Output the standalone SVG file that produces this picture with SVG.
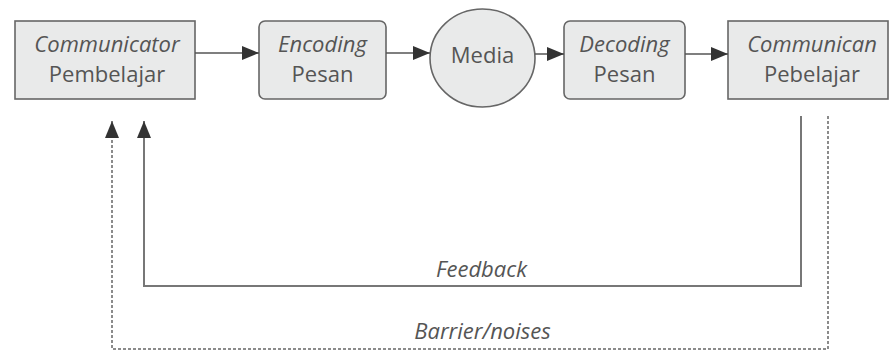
<svg xmlns="http://www.w3.org/2000/svg" width="890" height="351" viewBox="0 0 890 351">
  <style>
    .box { fill: #e9eaea; stroke: #666; stroke-width: 1.6; }
    .lbl { font-family: "Open Sans", "Noto Sans", sans-serif; font-size: 22px; fill: #555; text-anchor: middle; }
    .it { font-style: italic; }
    .wire { fill: none; stroke: #555; stroke-width: 1.5; }
    .fb { fill: none; stroke: #777; stroke-width: 2; }
    .dash { fill: none; stroke: #666; stroke-width: 1.5; stroke-dasharray: 3 2; }
  </style>
  <defs>
    <marker id="arr" markerUnits="userSpaceOnUse" markerWidth="18" markerHeight="14" refX="17" refY="7" orient="auto">
      <path d="M0,0 L17,7 L0,14 Z" fill="#333"/>
    </marker>
  </defs>

  <g id="communicator">
    <rect class="box" x="15" y="21" width="180" height="78"/>
    <text class="lbl it" x="107" y="52">Communicator</text>
    <text class="lbl" x="107" y="82">Pembelajar</text>
  </g>

  <g id="encoding">
    <rect class="box" x="259" y="21" width="127" height="78" rx="6"/>
    <text class="lbl it" x="322.5" y="52">Encoding</text>
    <text class="lbl" x="322.5" y="82">Pesan</text>
  </g>

  <g id="media">
    <ellipse class="box" cx="482.5" cy="58" rx="52.5" ry="49"/>
    <text class="lbl" x="482.5" y="63">Media</text>
  </g>

  <g id="decoding">
    <rect class="box" x="564" y="21" width="121" height="78" rx="6"/>
    <text class="lbl it" x="624.5" y="52">Decoding</text>
    <text class="lbl" x="624.5" y="82">Pesan</text>
  </g>

  <g id="communican">
    <rect class="box" x="728" y="21" width="160" height="78"/>
    <text class="lbl it" x="812" y="52">Communican</text>
    <text class="lbl" x="812" y="82">Pebelajar</text>
  </g>

  <g id="connectors">
    <line class="wire" x1="195" y1="53" x2="259" y2="53" marker-end="url(#arr)"/>
    <line class="wire" x1="386" y1="53" x2="430" y2="53" marker-end="url(#arr)"/>
    <line class="wire" x1="535" y1="54" x2="564" y2="54" marker-end="url(#arr)"/>
    <line class="wire" x1="685" y1="54" x2="728" y2="54" marker-end="url(#arr)"/>
    <path class="fb" d="M801,116 V286 H144 V121" marker-end="url(#arr)"/>
    <path class="dash" d="M828,116 V349 H112 V121" marker-end="url(#arr)"/>
    <text class="lbl it" x="481.5" y="277">Feedback</text>
    <text class="lbl it" x="482.5" y="339">Barrier/noises</text>
  </g>
</svg>
